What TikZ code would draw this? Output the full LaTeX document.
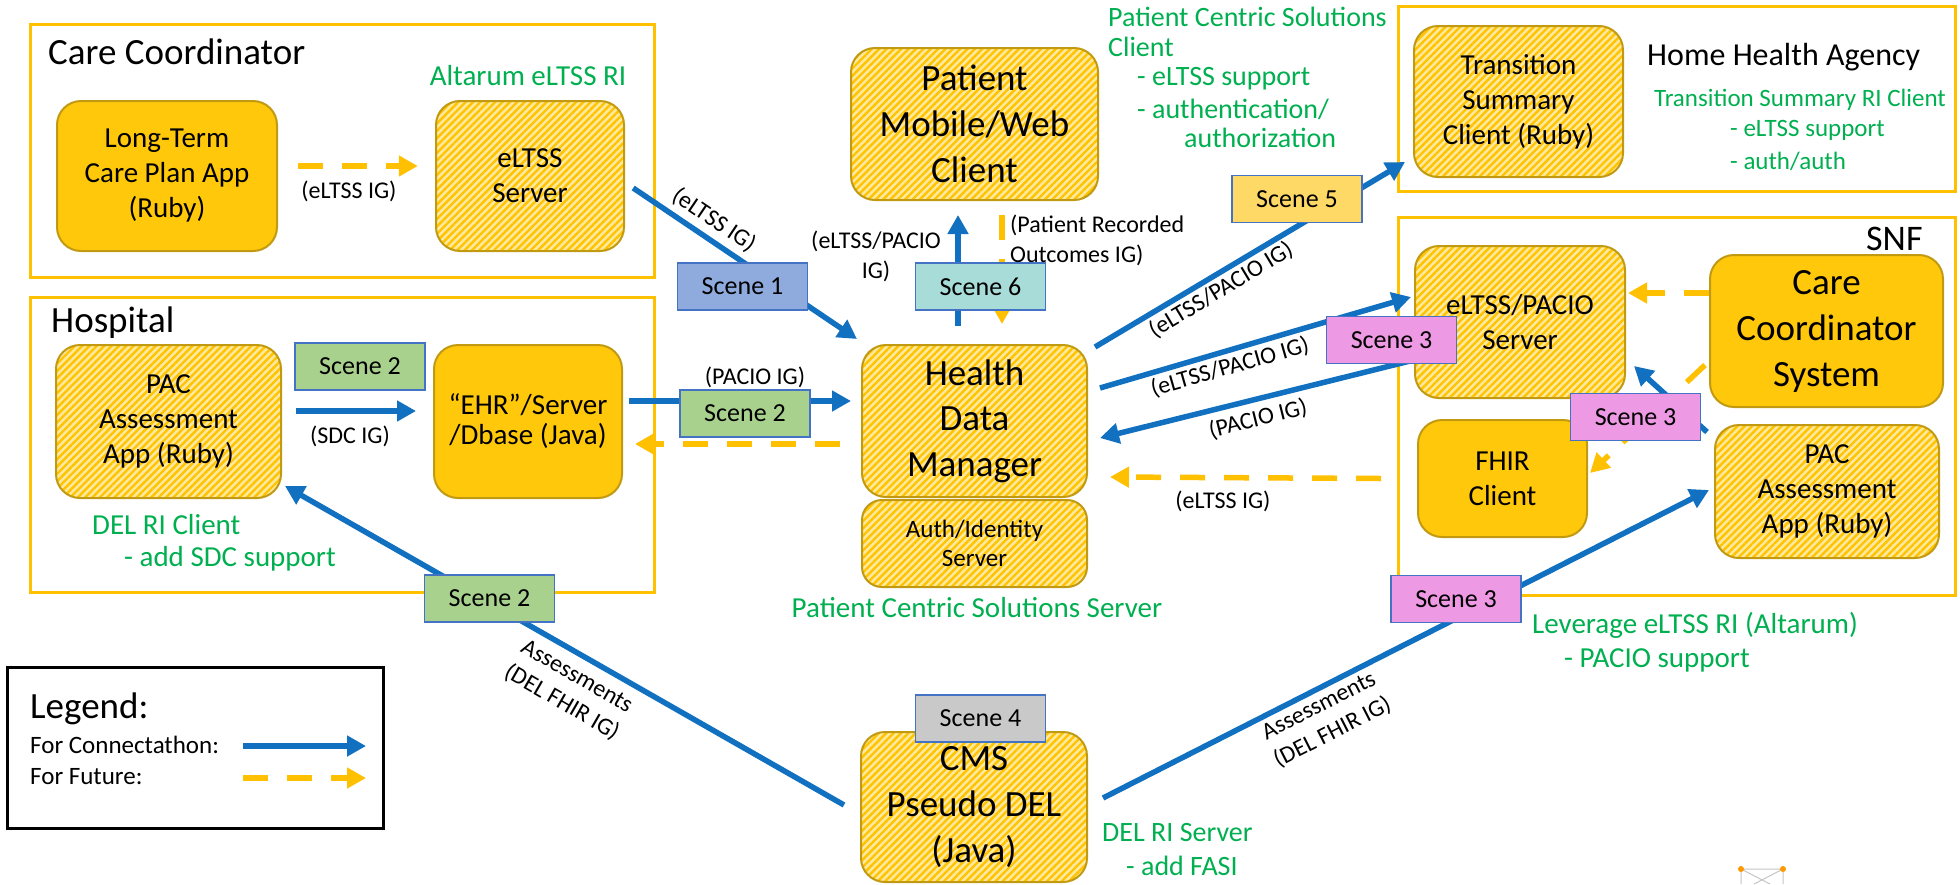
\documentclass[tikz,border=0pt]{standalone}
\usepackage{fontspec}
\setmainfont{Carlito}
\usetikzlibrary{arrows.meta,patterns.meta}
\definecolor{gold}{HTML}{FFC80A}
\definecolor{stripe}{HTML}{FFC400}
\definecolor{goldline}{HTML}{C29A12}
\definecolor{frameY}{HTML}{FFC000}
\definecolor{lightY}{HTML}{FFE8A0}
\definecolor{arrowBlue}{HTML}{1170C0}
\definecolor{dashY}{HTML}{FFC000}
\definecolor{grn}{HTML}{00B050}
\definecolor{sceneBlue}{HTML}{8FAADC}
\definecolor{sceneGreen}{HTML}{A9D18E}
\definecolor{sceneTeal}{HTML}{A8DCD8}
\definecolor{sceneYellow}{HTML}{FFD966}
\definecolor{scenePink}{HTML}{EE99E4}
\definecolor{sceneGray}{HTML}{C9C9C9}
\definecolor{sceneEdge}{HTML}{4472C4}
\newcommand{\fsz}[2]{\fontsize{#1}{#2}\selectfont}
\begin{document}
\begin{tikzpicture}[x=1pt,y=1pt,
  frame/.style={draw=frameY,line width=3pt},
  solidbox/.style={draw=goldline,line width=2pt,fill=gold,rounded corners=24pt,align=center,inner sep=0pt},
  hatchbox/.style={draw=goldline,line width=2pt,rounded corners=24pt,preaction={fill=lightY},pattern={Lines[angle=45,distance=5.2pt,line width=2.4pt]},pattern color=stripe,align=center,inner sep=0pt},
  scenebox/.style={draw=sceneEdge,line width=1.5pt,minimum width=130pt,minimum height=47pt,inner sep=0pt,font=\fsz{26}{31}},
  conn/.style={draw=arrowBlue,line width=5.5pt,-{Triangle[length=19pt,width=20pt]}},
  fut/.style={draw=dashY,line width=5.5pt,dash pattern=on 25pt off 19pt,-{Triangle[length=19pt,width=20pt]}},
  lbl/.style={font=\fsz{24}{30},align=center,inner sep=0pt},
  grntxt/.style={text=grn,inner sep=0pt,align=left,anchor=west},
  ttl/.style={inner sep=0pt,anchor=base west}
]
\useasboundingbox[fill=white] (0,0) rectangle (1960,-884);

% frames
\draw[frame] (30,-24) rectangle (654,-277);
\draw[frame] (30,-297) rectangle (654,-592);
\draw[frame] (1398,-6) rectangle (1955,-191);
\draw[frame] (1398,-217) rectangle (1955,-595);
\draw[black,line width=3pt] (7,-667) rectangle (383,-828);

% titles
\node[ttl,font=\fsz{37}{44}] (tcc) at (48,-64) {Care Coordinator};
\node[ttl,font=\fsz{37}{44}] (thosp) at (51,-332) {Hospital};
\node[ttl,font=\fsz{32}{38}] (thha) at (1647,-65) {Home Health Agency};
\node[ttl,font=\fsz{36}{42}] (tsnf) at (1866,-250) {SNF};
\node[ttl,font=\fsz{37}{44}] (tleg) at (30,-718) {Legend:};
\node[ttl,font=\fsz{25}{30}] (tlc) at (30,-753) {For Connectathon:};
\node[ttl,font=\fsz{25}{30}] (tlf) at (30,-784) {For Future:};

% main boxes
\node[solidbox,minimum width=220pt,minimum height=150pt,font=\fsz{29}{35}] (ltc) at (167,-176) {Long-Term\\Care Plan App\\(Ruby)};
\node[hatchbox,minimum width=188pt,minimum height=150pt,font=\fsz{29}{35}] (eltss) at (530,-176) {eLTSS\\Server};
\node[hatchbox,minimum width=225pt,minimum height=153pt,font=\fsz{29}{35}] (pacH) at (168.5,-421.5) {PAC\\Assessment\\App (Ruby)};
\node[solidbox,minimum width=188pt,minimum height=153pt,font=\fsz{29}{30}] (ehr) at (528,-421.5) {``EHR''/Server\\/Dbase (Java)};
\node[hatchbox,minimum width=247pt,minimum height=152pt,font=\fsz{37}{46}] (pmc) at (974.5,-124) {Patient\\Mobile/Web\\Client};
\node[hatchbox,minimum width=225pt,minimum height=152pt,font=\fsz{37}{45.5}] (hdm) at (974.5,-421) {Health\\Data\\Manager};
\node[hatchbox,rounded corners=20pt,minimum width=225pt,minimum height=87pt,font=\fsz{25}{29}] (auth) at (974.5,-543.5) {Auth/Identity\\Server};
\node[hatchbox,minimum width=226pt,minimum height=150pt,font=\fsz{37}{46}] (cms) at (974,-807) {CMS\\Pseudo DEL\\(Java)};
\node[hatchbox,minimum width=209pt,minimum height=151pt,font=\fsz{29}{35}] (tsc) at (1518.5,-101.5) {Transition\\Summary\\Client (Ruby)};
\node[hatchbox,minimum width=210pt,minimum height=152pt,font=\fsz{29}{35}] (eps) at (1520,-322) {eLTSS/PACIO\\Server};
\node[solidbox,minimum width=233pt,minimum height=152pt,font=\fsz{37}{46}] (ccs) at (1826.5,-331) {Care\\Coordinator\\System};
\node[solidbox,minimum width=169pt,minimum height=117pt,font=\fsz{29}{35}] (fhir) at (1502.5,-478.5) {FHIR\\Client};
\node[hatchbox,minimum width=224pt,minimum height=133pt,font=\fsz{29}{35}] (pacS) at (1827,-491.5) {PAC\\Assessment\\App (Ruby)};

% green annotations
\node[grntxt,anchor=center,font=\fsz{29}{35}] (galt) at (528,-76) {Altarum eLTSS RI};
\node[grntxt,font=\fsz{29}{34}] (gdel1) at (92,-525) {DEL RI Client};
\node[grntxt,font=\fsz{29}{34}] (gdel2) at (124,-559) {- add SDC support};
\node[grntxt,anchor=center,font=\fsz{29}{35}] (gpcss) at (977,-608) {Patient Centric Solutions Server};
\node[grntxt,font=\fsz{28}{30}] (gpc1) at (1108,-17) {Patient Centric Solutions};
\node[grntxt,font=\fsz{28}{30}] (gpc2) at (1108,-47) {Client};
\node[grntxt,font=\fsz{28}{30}] (gpc3) at (1137,-79) {- eLTSS support};
\node[grntxt,font=\fsz{28}{30}] (gpc4) at (1137,-109) {- authentication/};
\node[grntxt,font=\fsz{28}{30}] (gpc5) at (1184,-138) {authorization};
\node[grntxt,anchor=center,font=\fsz{25}{30}] (gts1) at (1800,-100) {Transition Summary RI Client};
\node[grntxt,font=\fsz{25}{30}] (gts2) at (1730,-130) {- eLTSS support};
\node[grntxt,font=\fsz{25}{30}] (gts3) at (1730,-161) {- auth/auth};
\node[grntxt,font=\fsz{29}{35}] (glev1) at (1532,-625) {Leverage eLTSS RI (Altarum)};
\node[grntxt,font=\fsz{29}{35}] (glev2) at (1564,-660) {- PACIO support};
\node[grntxt,font=\fsz{28}{34}] (gdrs1) at (1102,-832) {DEL RI Server};
\node[grntxt,font=\fsz{28}{34}] (gdrs2) at (1126,-866) {- add FASI};

% connectors
\draw[fut] ([xshift=20pt,yshift=10pt]ltc.east) -- ([xshift=-17pt,yshift=10pt]eltss.west);
\draw[conn] ([xshift=8pt,yshift=-12pt]eltss.east) -- ([xshift=-4pt,yshift=5pt]hdm.north west);
\draw[conn] ([xshift=14pt,yshift=10.5pt]pacH.east) -- ([xshift=-17pt,yshift=10.5pt]ehr.west);
\draw[conn] ([xshift=6pt,yshift=20.5pt]ehr.east) -- ([xshift=-10pt,yshift=20pt]hdm.west);
\draw[fut] ([xshift=-21pt,yshift=-23pt]hdm.west) -- ([xshift=12pt,yshift=-22.5pt]ehr.east);
\draw[conn] ([xshift=-16.5pt,yshift=18pt]hdm.north) -- ([xshift=-16.5pt,yshift=-14pt]pmc.south);
\draw[fut] ([xshift=27.5pt,yshift=-14pt]pmc.south) -- ([xshift=27.5pt,yshift=20pt]hdm.north);
\draw[conn] ([xshift=7pt,yshift=-3pt]hdm.north east) -- ([xshift=-8pt,yshift=16pt]tsc.south west);
\draw[conn] ([xshift=12pt,yshift=33pt]hdm.east) -- ([xshift=-3pt,yshift=25pt]eps.west);
\draw[conn] ([yshift=-38pt]eps.west) -- ([xshift=12pt,yshift=-17pt]hdm.east);
\draw[fut] ([xshift=-36pt]fhir.west) -- ([xshift=22pt,yshift=-56pt]hdm.east);
\draw[fut] ([yshift=38pt]ccs.west) -- ([xshift=2pt,yshift=29pt]eps.east);
\draw[fut] ([xshift=-4pt,yshift=-34pt]ccs.west) -- ([xshift=2pt,yshift=5.5pt]fhir.east);
\draw[conn] ([xshift=-7pt,yshift=-8pt]pacS.north west) -- ([xshift=8pt,yshift=33pt]eps.south east);
\draw[conn] ([xshift=-16pt,yshift=2pt]cms.west) -- ([xshift=3pt,yshift=13pt]pacH.south east);
\draw[conn] ([xshift=15pt,yshift=9pt]cms.east) -- ([xshift=-5pt,yshift=1.5pt]pacS.west);

% legend arrows
\coordinate (lg1a) at (243,-746);
\coordinate (lg1b) at (366,-746);
\coordinate (lg2a) at (243,-778);
\coordinate (lg2b) at (366,-778);
\draw[conn] (lg1a) -- (lg1b);
\draw[fut] (lg2a) -- (lg2b);

% connector labels
\node[lbl] (l1) at (349,-191) {(eLTSS IG)};
\node[lbl] (l2) at (350,-436) {(SDC IG)};
\node[lbl] (l3) at (755,-377) {(PACIO IG)};
\node[lbl] (l4) at (876,-256) {(eLTSS/PACIO\\IG)};
\node[lbl,align=left,anchor=west] (l5) at (1010,-240) {(Patient Recorded\\Outcomes IG)};
\node[lbl] (l6) at (1223,-501) {(eLTSS IG)};
\node[lbl,rotate=-34] (l7) at (714,-220) {(eLTSS IG)};
\node[lbl,rotate=31] (l8) at (1221,-290) {(eLTSS/PACIO IG)};
\node[lbl,rotate=16] (l9) at (1230,-367) {(eLTSS/PACIO IG)};
\node[lbl,rotate=14] (l10) at (1258,-419) {(PACIO IG)};
\node[lbl,rotate=-30] (l11) at (569,-690) {Assessments\\(DEL FHIR IG)};
\node[lbl,rotate=27] (l12) at (1326,-720) {Assessments\\(DEL FHIR IG)};

% scene boxes
\node[scenebox,fill=sceneBlue] (s1) at (742.5,-286.5) {Scene 1};
\node[scenebox,fill=sceneGreen] (s2a) at (360,-366.5) {Scene 2};
\node[scenebox,fill=sceneGreen] (s2b) at (745,-413.5) {Scene 2};
\node[scenebox,fill=sceneGreen] (s2c) at (489.5,-598.5) {Scene 2};
\node[scenebox,fill=sceneTeal] (s6) at (980.5,-286.5) {Scene 6};
\node[scenebox,fill=sceneYellow] (s5) at (1297,-199) {Scene 5};
\node[scenebox,fill=scenePink] (s3a) at (1391.5,-340) {Scene 3};
\node[scenebox,fill=scenePink] (s3b) at (1635.5,-417) {Scene 3};
\node[scenebox,fill=scenePink] (s3c) at (1456,-599) {Scene 3};
\node[scenebox,fill=sceneGray] (s4) at (980.5,-718.5) {Scene 4};

% small logo fragment
\draw[gray!45,line width=1pt] (1741,-869) -- (1783,-869)
  (1741,-869) -- (1741,-884) (1783,-869) -- (1783,-884)
  (1741,-869) -- (1770,-884) (1783,-869) -- (1754,-884);
\fill[orange!80!yellow] (1741,-869) circle (3pt) (1783,-869) circle (3pt);
\end{tikzpicture}
\end{document}
